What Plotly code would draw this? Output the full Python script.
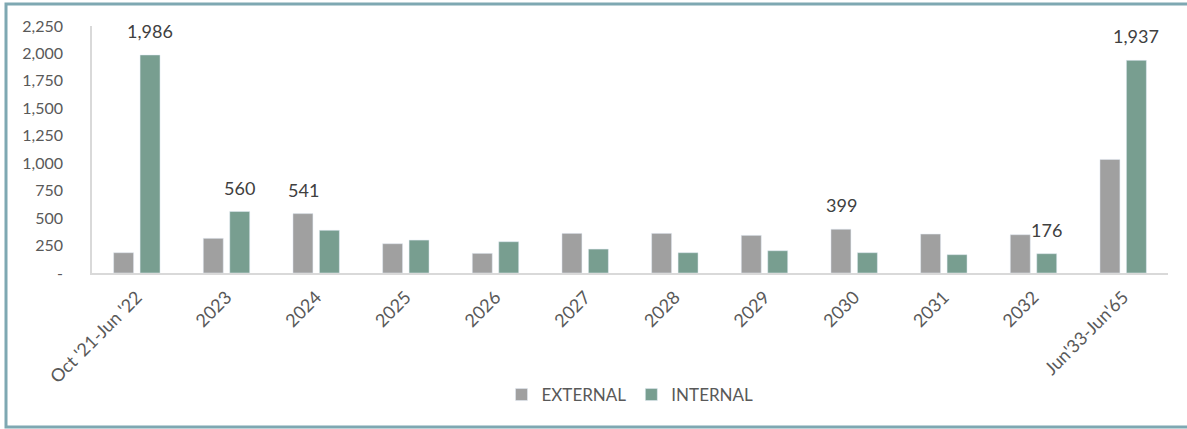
import plotly.graph_objects as go

categories = ["Oct '21-Jun '22", "2023", "2024", "2025", "2026", "2027", "2028",
              "2029", "2030", "2031", "2032", "Jun'33-Jun'65"]
external = [185, 316, 541, 267, 179, 361, 361, 343, 399, 355, 349, 1035]
internal = [1986, 560, 389, 300, 285, 218, 185, 203, 185, 167, 176, 1937]
# which bar of each category carries a value label ("E" external, "I" internal)
label_on = ["I", "I", "E", "", "", "", "", "", "E", "", "I", "I"]

ytick_vals = [0, 250, 500, 750, 1000, 1250, 1500, 1750, 2000, 2250]
ytick_text = ["-", "250", "500", "750", "1,000", "1,250", "1,500", "1,750", "2,000", "2,250"]

FONT = "Lato, 'Open Sans', sans-serif"
GRAY = "#A0A0A0"
TEAL = "#789E90"
TXT = "#595959"

W, H = 1187, 429
ML, MR, MT, MB = 92, 19, 26, 156
PW, PH = W - ML - MR, H - MT - MB

fig = go.Figure()
fig.add_trace(go.Bar(name="EXTERNAL", x=categories, y=external, marker_color=GRAY))
fig.add_trace(go.Bar(name="INTERNAL", x=categories, y=internal, marker_color=TEAL))

annotations = []
for idx, (e, i, lab) in enumerate(zip(external, internal, label_on)):
    if lab == "E":
        annotations.append(dict(x=idx, y=e, text=f"{e:,}", xshift=-13, yshift=11,
                                yanchor="bottom", showarrow=False))
    elif lab == "I":
        annotations.append(dict(x=idx, y=i, text=f"{i:,}", xshift=13, yshift=11,
                                yanchor="bottom", showarrow=False))
for a in annotations:
    a["font"] = dict(family=FONT, size=18, color="#404040")

def px_x(p):
    return (p - ML) / PW

def px_y(p):
    return (H - MB - p) / PH

fig.update_layout(
    width=W, height=H,
    margin=dict(l=ML, r=MR, t=MT, b=MB),
    paper_bgcolor="white", plot_bgcolor="white",
    barmode="group", bargap=0.41, bargroupgap=0.245,
    font=dict(family=FONT, color=TXT),
    annotations=annotations,
    showlegend=True,
    legend=dict(orientation="h", x=0.5, xanchor="center", y=px_y(395), yanchor="middle",
                font=dict(size=17, color=TXT), itemwidth=30, traceorder="normal"),
    shapes=[dict(type="rect", xref="paper", yref="paper",
                 x0=px_x(6), x1=px_x(1195), y0=px_y(427), y1=px_y(4),
                 line=dict(color="#7EA8B2", width=3), layer="below")],
)
fig.update_xaxes(type="category", range=[-0.5, len(categories) - 0.5],
                 showline=True, linecolor="#D9D9D9", linewidth=1.5,
                 tickangle=-45, tickfont=dict(size=18, color=TXT),
                 ticklabelstandoff=5,
                 showgrid=False, ticks="")
fig.update_yaxes(range=[0, 2250], tickvals=ytick_vals, ticktext=ytick_text,
                 showline=True, linecolor="#D9D9D9", linewidth=1.5,
                 showgrid=False, zeroline=False, ticks="",
                 tickfont=dict(size=16, color=TXT), ticklabelstandoff=24)

fig.write_html("out.html")
